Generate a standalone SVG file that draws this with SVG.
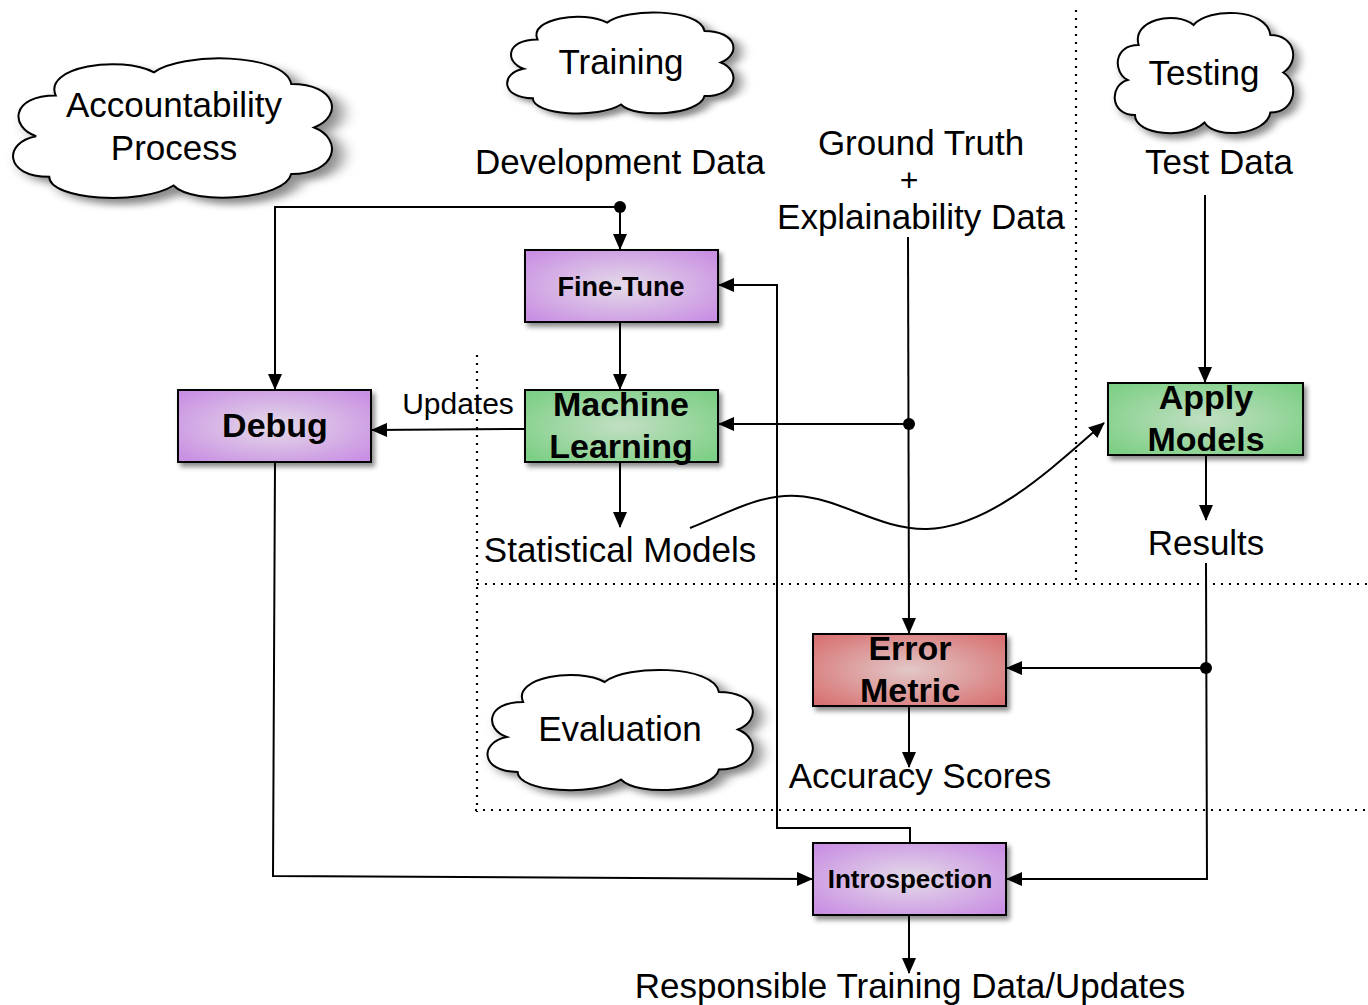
<svg xmlns="http://www.w3.org/2000/svg" width="1368" height="1005" viewBox="0 0 1368 1005">
<style>
.t{font-family:"Liberation Sans",Arial,sans-serif;font-size:35px;fill:#000;text-anchor:middle}
.b{font-family:"Liberation Sans",Arial,sans-serif;font-weight:bold;fill:#000;text-anchor:middle}
.box{stroke:#000;stroke-width:2;filter:url(#sh)}
.cloud{fill:#fff;stroke:#000;stroke-width:2;filter:url(#sh)}
.ln{fill:none;stroke:#000;stroke-width:2}
.arr{marker-end:url(#ah)}
.dot{fill:none;stroke:#000;stroke-width:2.2;stroke-dasharray:2 6}
</style>
<defs>
<filter id="sh" x="-10%" y="-10%" width="130%" height="140%">
<feDropShadow dx="3" dy="4" stdDeviation="2.5" flood-color="#000" flood-opacity="0.45"/>
</filter>
<radialGradient id="gp" cx="50%" cy="50%" r="65%">
<stop offset="0" stop-color="#e4dbe8"/><stop offset="1" stop-color="#c98fe3"/>
</radialGradient>
<radialGradient id="gg" cx="50%" cy="50%" r="65%">
<stop offset="0" stop-color="#c2dfc3"/><stop offset="1" stop-color="#7ccf84"/>
</radialGradient>
<radialGradient id="gr" cx="50%" cy="50%" r="65%">
<stop offset="0" stop-color="#e2c8c8"/><stop offset="1" stop-color="#d87272"/>
</radialGradient>
<marker id="ah" markerUnits="userSpaceOnUse" markerWidth="16" markerHeight="14" refX="15" refY="7" orient="auto">
<path d="M0,0 L16,7 L0,14 Z" fill="#000"/>
</marker>
<path id="cl" vector-effect="non-scaling-stroke" d="M14,28 C10,8 34,0 44,12 C52,-2 84,-2 86,20 C100,20 102,42 93,50 C102,58 100,82 86,82 C84,100 56,104 50,90 C40,104 12,100 12,84 C-2,84 -2,60 8,56 C0,50 0,28 14,28 Z"/>
</defs>
<rect width="1368" height="1005" fill="#fff"/>

<g id="regions">
<line class="dot" x1="477" y1="355" x2="477" y2="812"/>
<line class="dot" x1="477" y1="584" x2="1368" y2="584"/>
<line class="dot" x1="1076" y1="10" x2="1076" y2="580"/>
<line class="dot" x1="475" y1="810" x2="1368" y2="810"/>
</g>

<g id="cloud-training">
<use href="#cl" class="cloud" transform="translate(505,10) scale(2.32,1.05)"/>
<text class="t" x="621" y="74">Training</text>
</g>
<g id="cloud-testing">
<use href="#cl" class="cloud" transform="translate(1113,10) scale(1.83,1.25)"/>
<text class="t" x="1204" y="85">Testing</text>
</g>
<g id="cloud-accountability">
<use href="#cl" class="cloud" transform="translate(10,55) scale(3.27,1.45)"/>
<text class="t" x="174" y="117">Accountability</text>
<text class="t" x="174" y="160">Process</text>
</g>
<g id="cloud-evaluation">
<use href="#cl" class="cloud" transform="translate(485,667) scale(2.72,1.25)"/>
<text class="t" x="620" y="741">Evaluation</text>
</g>

<g id="connectors">
<polyline class="ln arr" points="620,207 620,249"/>
<polyline class="ln arr" points="620,207 275,207 275,389"/>
<circle cx="620" cy="207" r="6" fill="#000"/>
<polyline class="ln arr" points="620,322 620,389"/>
<polyline class="ln arr" points="620,462 620,527"/>
<polyline class="ln arr" points="525,429 372,430"/>
<polyline class="ln arr" points="908,237 909,633"/>
<polyline class="ln arr" points="909,424 719,424"/>
<circle cx="909" cy="424" r="6" fill="#000"/>
<polyline class="ln arr" points="1205,195 1205,382"/>
<polyline class="ln arr" points="1206,455 1206,520"/>
<polyline class="ln arr" points="1206,563 1207,879 1007,879"/>
<polyline class="ln arr" points="1206,668 1007,668"/>
<circle cx="1206" cy="668" r="6" fill="#000"/>
<polyline class="ln arr" points="909,706 909,767"/>
<polyline class="ln arr" points="910,843 910,828 777,828 777,285 719,285"/>
<polyline class="ln arr" points="275,462 273,876 812,879"/>
<polyline class="ln arr" points="909,915 909,973"/>
<path class="ln arr" d="M690,528 C730,512 760,494 797,496 C840,498 880,530 927,529 C990,527 1050,470 1104,423"/>
</g>

<g id="node-finetune">
<rect class="box" x="525" y="250" width="193" height="72" fill="url(#gp)"/>
<text class="b" x="621" y="296" font-size="27">Fine-Tune</text>
</g>
<g id="node-ml">
<rect class="box" x="525" y="390" width="193" height="72" fill="url(#gg)"/>
<text class="b" x="621" y="416" font-size="34">Machine</text>
<text class="b" x="621" y="458" font-size="34">Learning</text>
</g>
<g id="node-debug">
<rect class="box" x="178" y="390" width="193" height="72" fill="url(#gp)"/>
<text class="b" x="275" y="437" font-size="34">Debug</text>
</g>
<g id="node-apply">
<rect class="box" x="1108" y="383" width="195" height="72" fill="url(#gg)"/>
<text class="b" x="1206" y="409" font-size="34">Apply</text>
<text class="b" x="1206" y="451" font-size="34">Models</text>
</g>
<g id="node-error">
<rect class="box" x="813" y="634" width="193" height="72" fill="url(#gr)"/>
<text class="b" x="910" y="660" font-size="34">Error</text>
<text class="b" x="910" y="702" font-size="34">Metric</text>
</g>
<g id="node-introspection">
<rect class="box" x="813" y="843" width="193" height="72" fill="url(#gp)"/>
<text class="b" x="910" y="888" font-size="26">Introspection</text>
</g>

<g id="labels">
<text class="t" x="921" y="155">Ground Truth</text>
<text class="t" x="909" y="191" style="font-size:32px">+</text>
<text class="t" x="921" y="229">Explainability Data</text>
<text class="t" x="620" y="174">Development Data</text>
<text class="t" x="1219" y="174">Test Data</text>
<text class="t" x="458" y="414" style="font-size:30px">Updates</text>
<text class="t" x="620" y="562">Statistical Models</text>
<text class="t" x="1206" y="555">Results</text>
<text class="t" x="920" y="788">Accuracy Scores</text>
<text class="t" x="910" y="998">Responsible Training Data/Updates</text>
</g>
</svg>
